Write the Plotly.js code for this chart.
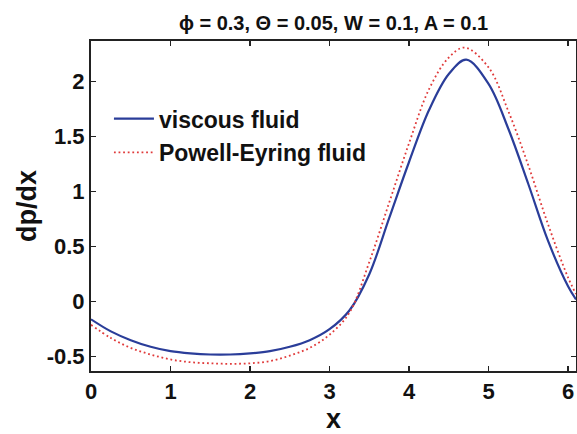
<!DOCTYPE html>
<html>
<head>
<meta charset="utf-8">
<script src="https://cdn.plot.ly/plotly-3.0.1.min.js"></script>
<style>html,body{margin:0;padding:0;background:#fff;}#chart{width:577px;height:434px;}</style>
</head>
<body>
<div id="chart"></div>
<script>
const xViscous = [0, 0.25, 0.5, 0.75, 1.0, 1.25, 1.5, 1.75, 2.0, 2.25, 2.5, 2.75, 3.0, 3.25, 3.5, 3.75, 4.0, 4.25, 4.5, 4.72, 5.0, 5.25, 5.5, 5.75, 6.0, 6.1];
const yViscous = [-0.16, -0.27, -0.35, -0.41, -0.45, -0.47, -0.48, -0.48, -0.47, -0.45, -0.41, -0.35, -0.25, -0.08, 0.25, 0.76, 1.27, 1.74, 2.07, 2.20, 1.98, 1.57, 1.07, 0.55, 0.14, 0.02];
const xPowell = [0, 0.25, 0.5, 0.75, 1.0, 1.25, 1.5, 1.75, 2.0, 2.25, 2.5, 2.75, 3.0, 3.25, 3.5, 3.75, 4.0, 4.25, 4.5, 4.7, 5.0, 5.25, 5.5, 5.75, 6.0, 6.1];
const yPowell = [-0.21, -0.33, -0.42, -0.48, -0.525, -0.55, -0.56, -0.565, -0.56, -0.54, -0.49, -0.42, -0.30, -0.10, 0.36, 0.90, 1.44, 1.93, 2.22, 2.31, 2.13, 1.73, 1.24, 0.70, 0.22, 0.07];
const xTicks = [0, 1, 2, 3, 4, 5, 6];
const xTickText = ['0', '1', '2', '3', '4', '5', '6'];
const yTicks = [-0.5, 0, 0.5, 1, 1.5, 2];
const yTickText = ['-0.5', '0', '0.5', '1', '1.5', '2'];
const seriesNames = ['viscous fluid', 'Powell-Eyring fluid'];
const titleText = '\u03d5 = 0.3, \u0398 = 0.05, W = 0.1, A = 0.1';

const F = 'Liberation Sans, Arial, sans-serif';
const bold = s => '<b>' + s + '</b>';
const traces = [
  {x: xViscous, y: yViscous, name: bold(seriesNames[0]), mode: 'lines', line: {color: '#2a3d99', width: 2.2, shape: 'spline'}, legendgroup: 'a'},
  {x: xPowell, y: yPowell, name: bold(seriesNames[1]), mode: 'lines', line: {color: '#e03a3a', width: 1.8, dash: '1.8px,2.8px', shape: 'spline'}, legendgroup: 'b'}
];
const axisCommon = {
  showgrid: false, zeroline: false, showline: true, linecolor: '#222', linewidth: 2,
  mirror: 'ticks', ticks: 'inside', ticklen: 5, tickwidth: 1.5, tickcolor: '#222',
  tickfont: {family: F, size: 22, color: '#111'}
};
const layout = {
  width: 577, height: 434,
  margin: {l: 91, r: 1, t: 41, b: 63},
  paper_bgcolor: '#fff', plot_bgcolor: '#fff',
  title: {text: bold(titleText), font: {family: F, size: 20, color: '#111'}, x: 0.578, xanchor: 'center', y: 0.948, yanchor: 'middle'},
  xaxis: Object.assign({}, axisCommon, {range: [0, 6.1], tickvals: xTicks, ticktext: xTickText.map(bold),
    title: {text: '<b>x</b>', font: {family: F, size: 27, color: '#111'}, standoff: 2}}),
  yaxis: Object.assign({}, axisCommon, {range: [-0.63, 2.37], tickvals: yTicks, ticktext: yTickText.map(bold),
    title: {text: '<b>dp/dx</b>', font: {family: F, size: 27, color: '#111'}, standoff: 2}}),
  showlegend: true,
  legend: {x: 0.037, y: 0.83, xanchor: 'left', yanchor: 'top', bgcolor: 'rgba(0,0,0,0)', borderwidth: 0,
    font: {family: F, size: 23, color: '#111'}, tracegroupgap: 1, traceorder: 'grouped', itemwidth: 40}
};
Plotly.newPlot('chart', traces, layout, {displayModeBar: false, staticPlot: true});
</script>
</body>
</html>
